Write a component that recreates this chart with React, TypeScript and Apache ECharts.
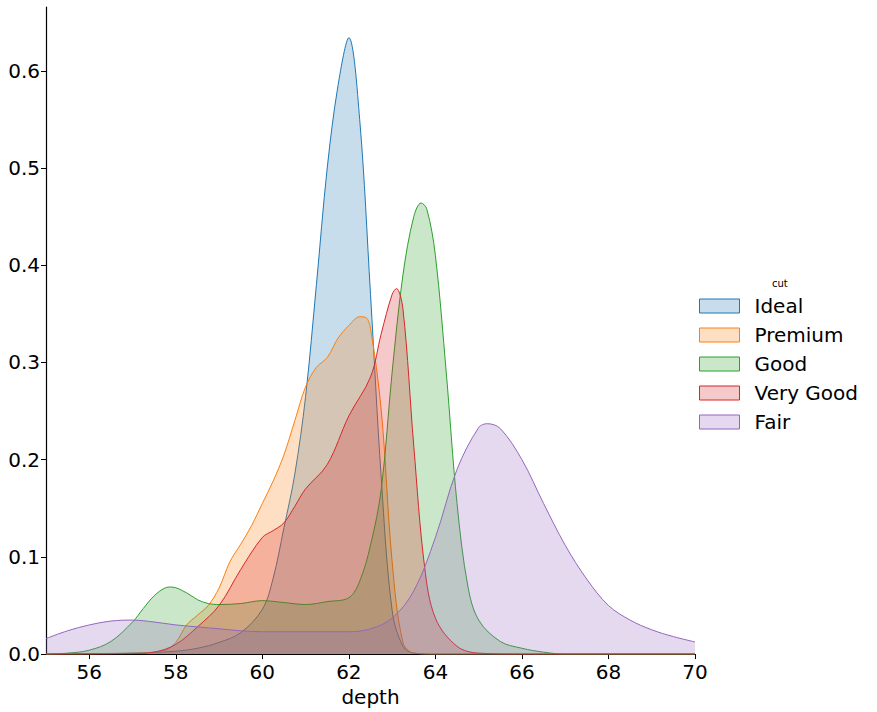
import React, { useEffect, useRef } from "react";
import * as echarts from "echarts";

const categories = ["Ideal", "Premium", "Good", "Very Good", "Fair"];
const colors = ["#1f77b4", "#ff7f0e", "#2ca02c", "#d62728", "#9467bd"];
const fills = [
  "rgba(31,119,180,0.25)",
  "rgba(255,127,14,0.25)",
  "rgba(44,160,44,0.25)",
  "rgba(214,39,40,0.25)",
  "rgba(148,103,189,0.25)",
];

const xTicks = [56, 58, 60, 62, 64, 66, 68, 70];

const idealDensity: number[][] = [
  [55, 0], [56, 0.0005], [57, 0.001], [58, 0.003], [58.5, 0.006], [59, 0.012], [59.5, 0.022],
  [60, 0.046], [60.25, 0.078], [60.5, 0.13], [60.75, 0.185], [61, 0.265], [61.25, 0.38],
  [61.5, 0.5], [61.75, 0.585], [62, 0.634], [62.25, 0.55], [62.5, 0.37], [62.75, 0.18],
  [63, 0.045], [63.25, 0.008], [63.5, 0.001], [64, 0], [70, 0],
];

const premiumDensity: number[][] = [
  [55, 0], [57, 0.001], [57.75, 0.004], [58, 0.012], [58.25, 0.03], [58.5, 0.04], [58.75, 0.05],
  [59, 0.068], [59.25, 0.095], [59.5, 0.113], [59.75, 0.132], [60, 0.155], [60.25, 0.178],
  [60.5, 0.205], [60.75, 0.24], [61, 0.275], [61.25, 0.295], [61.5, 0.305], [61.75, 0.325],
  [62, 0.338], [62.25, 0.347], [62.4, 0.346], [62.5, 0.335], [62.75, 0.25], [63, 0.095],
  [63.25, 0.012], [63.5, 0.001], [64, 0], [70, 0],
];

const goodDensity: number[][] = [
  [55, 0], [55.5, 0.001], [56, 0.004], [56.5, 0.013], [57, 0.033], [57.25, 0.047], [57.5, 0.06],
  [57.75, 0.068], [57.9, 0.069], [58.25, 0.063], [58.5, 0.056], [58.75, 0.052], [59, 0.051],
  [59.5, 0.052], [60, 0.055], [60.5, 0.053], [61, 0.051], [61.5, 0.054], [62, 0.058],
  [62.25, 0.075], [62.5, 0.112], [62.75, 0.17], [63, 0.29], [63.25, 0.39], [63.5, 0.45],
  [63.67, 0.464], [63.8, 0.458], [64, 0.41], [64.25, 0.29], [64.5, 0.155], [64.75, 0.07],
  [65, 0.035], [65.5, 0.013], [66, 0.006], [66.5, 0.002], [67, 0], [70, 0],
];

const veryGoodDensity: number[][] = [
  [55, 0], [57, 0.0005], [57.5, 0.002], [58, 0.01], [58.5, 0.028], [59, 0.05], [59.5, 0.087],
  [60, 0.12], [60.25, 0.127], [60.5, 0.135], [60.75, 0.152], [61, 0.17], [61.5, 0.195],
  [62, 0.245], [62.5, 0.285], [62.75, 0.33], [63, 0.37], [63.1, 0.376], [63.25, 0.355],
  [63.5, 0.214], [63.75, 0.09], [64, 0.037], [64.5, 0.008], [65, 0.001], [66, 0], [70, 0],
];

const fairDensity: number[][] = [
  [55, 0.016], [55.5, 0.024], [56, 0.03], [56.5, 0.034], [57, 0.035], [57.5, 0.033], [58, 0.03],
  [58.5, 0.028], [59, 0.026], [59.5, 0.024], [60, 0.023], [61, 0.023], [62, 0.023],
  [62.5, 0.026], [63, 0.037], [63.5, 0.065], [64, 0.12], [64.5, 0.19], [65, 0.233],
  [65.2, 0.237], [65.5, 0.232], [66, 0.2], [66.5, 0.155], [67, 0.112], [67.5, 0.077],
  [68, 0.05], [68.5, 0.035], [69, 0.025], [69.5, 0.018], [70, 0.0125],
];

const densities = [idealDensity, premiumDensity, goodDensity, veryGoodDensity, fairDensity];

export default function App() {
  const ref = useRef<HTMLDivElement>(null);
  useEffect(() => {
    document.body.style.margin = "0";
    const chart = echarts.init(ref.current!, null, { renderer: "svg" });
    const font = "DejaVu Sans";
    chart.setOption({
      animation: false,
      textStyle: { fontFamily: font },
      grid: { left: 46, right: 182, top: 7, bottom: 56 },
      xAxis: {
        type: "value",
        min: 55,
        max: 70,
        name: "depth",
        nameLocation: "middle",
        nameGap: 27,
        nameTextStyle: { fontSize: 20, color: "#000", fontFamily: font },
        axisLine: { show: true, lineStyle: { color: "#000", width: 1.2 } },
        axisTick: { show: true, inside: false, length: 5, customValues: xTicks, lineStyle: { color: "#000" } },
        axisLabel: { customValues: xTicks, fontSize: 20, color: "#000", margin: 8, fontFamily: font },
        splitLine: { show: false },
      },
      yAxis: {
        type: "value",
        min: 0,
        max: 0.6656,
        interval: 0.1,
        axisLine: { show: true, lineStyle: { color: "#000", width: 1.2 } },
        axisTick: { show: true, length: 5, lineStyle: { color: "#000" } },
        axisLabel: {
          fontSize: 20,
          color: "#000",
          margin: 6,
          showMaxLabel: false,
          fontFamily: font,
          formatter: (v: number) => v.toFixed(1),
        },
        splitLine: { show: false },
      },
      legend: {
        orient: "vertical",
        left: 694,
        top: 290,
        itemWidth: 40,
        itemHeight: 14,
        itemGap: 7,
        icon: "rect",
        textStyle: { fontSize: 20, lineHeight: 22, color: "#000", fontFamily: font, padding: [0, 0, 0, 10] },
        data: categories.map((c, i) => ({
          name: c,
          icon: "rect",
          itemStyle: { color: fills[i], borderColor: colors[i], borderWidth: 1, opacity: 1 },
        })),
      },
      graphic: [
        {
          type: "text",
          left: 772,
          top: 278,
          style: { text: "cut", fontSize: 10, fill: "#000", fontFamily: font },
        },
      ],
      series: categories.map((c, i) => ({
        name: c,
        type: "line",
        data: densities[i],
        smooth: 0.35,
        showSymbol: false,
        symbol: "none",
        clip: true,
        lineStyle: { color: colors[i], width: 1 },
        itemStyle: { color: colors[i] },
        areaStyle: { color: fills[i], opacity: 1, origin: "start" },
        z: 2 + i,
      })),
    });
    return () => chart.dispose();
  }, []);
  return <div ref={ref} style={{ position: "absolute", left: 0, top: 0, width: 877, height: 712 }} />;
}
